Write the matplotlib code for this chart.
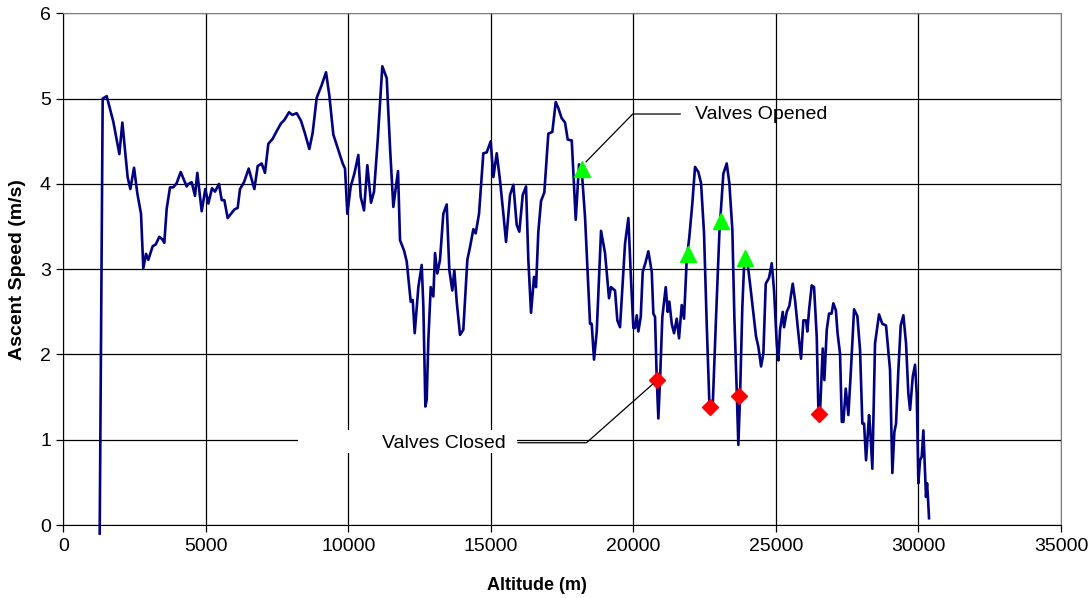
import matplotlib.pyplot as plt
from matplotlib.patches import Rectangle

plt.rcParams['font.family'] = ['Liberation Sans', 'DejaVu Sans']

# altitude (m) and ascent speed (m/s) along the flight
altitude = [1270, 1375, 1515, 1748, 1960, 2065, 2250, 2345, 2475, 2590, 2720, 2800, 2895, 2975,
            3130, 3235, 3362, 3467, 3537, 3621, 3737, 3853, 3972, 4113, 4323, 4380, 4498, 4614,
            4695, 4849, 4976, 5082, 5211, 5316, 5456, 5551, 5644, 5760, 5878, 5995, 6112, 6193,
            6333, 6498, 6697, 6814, 6954, 7070, 7187, 7340, 7481, 7632, 7749, 7913, 8030, 8182,
            8334, 8474, 8626, 8743, 8884, 9060, 9211, 9327, 9467, 9643, 9796, 9878, 9960, 10077,
            10205, 10345, 10428, 10545, 10661, 10790, 10896, 11025, 11187, 11341, 11457, 11573,
            11657, 11738, 11808, 11948, 12043, 12183, 12253, 12323, 12451, 12569, 12627, 12697,
            12744, 12802, 12885, 12977, 13036, 13117, 13211, 13327, 13446, 13538, 13643, 13713,
            13797, 13913, 14029, 14170, 14264, 14381, 14463, 14580, 14731, 14850, 14990, 15083,
            15201, 15317, 15434, 15528, 15668, 15785, 15902, 15994, 16113, 16229, 16310, 16405,
            16510, 16580, 16661, 16756, 16871, 17012, 17152, 17271, 17362, 17481, 17598, 17692,
            17833, 17973, 18089, 18183, 18300, 18475, 18533, 18615, 18710, 18861, 19001, 19141,
            19211, 19352, 19433, 19527, 19703, 19820, 19903, 19995, 20054, 20113, 20170, 20254,
            20324, 20415, 20521, 20640, 20697, 20756, 20815, 20872, 20931, 21012, 21131, 21201,
            21258, 21342, 21423, 21517, 21598, 21692, 21773, 21867, 21959, 22064, 22159, 22275,
            22370, 22475, 22569, 22662, 22781, 22897, 23013, 23152, 23271, 23363, 23469, 23539,
            23622, 23679, 23738, 23819, 23889, 23973, 24089, 24206, 24300, 24381, 24476, 24557,
            24640, 24756, 24851, 24932, 25026, 25083, 25142, 25236, 25283, 25377, 25469, 25587,
            25668, 25763, 25879, 25960, 26054, 26100, 26160, 26253, 26335, 26429, 26485, 26545,
            26640, 26697, 26781, 26861, 26950, 27012, 27100, 27160, 27247, 27309, 27365, 27448,
            27539, 27623, 27739, 27855, 27949, 28030, 28090, 28160, 28265, 28300, 28381, 28475,
            28615, 28730, 28861, 29001, 29083, 29153, 29212, 29294, 29376, 29469, 29563, 29644,
            29704, 29798, 29879, 29938, 29995, 30054, 30113, 30171, 30230, 30264, 30300, 30330,
            30370]
speed = [-0.10, 5.00, 5.03, 4.73, 4.35, 4.72, 4.08, 3.94, 4.19, 3.89, 3.65, 3.01, 3.18, 3.11,
         3.27, 3.29, 3.38, 3.35, 3.31, 3.71, 3.96, 3.96, 4.01, 4.14, 3.97, 4.00, 4.02, 3.86,
         4.13, 3.68, 3.94, 3.77, 3.95, 3.91, 4.00, 3.81, 3.81, 3.60, 3.65, 3.70, 3.72, 3.94,
         4.02, 4.18, 3.94, 4.21, 4.24, 4.13, 4.47, 4.53, 4.62, 4.71, 4.75, 4.84, 4.81, 4.83,
         4.74, 4.59, 4.41, 4.60, 5.01, 5.16, 5.31, 5.04, 4.58, 4.40, 4.24, 4.18, 3.65, 3.97,
         4.12, 4.34, 3.85, 3.69, 4.22, 3.78, 3.91, 4.51, 5.38, 5.24, 4.43, 3.73,
         3.95, 4.15, 3.34, 3.22, 3.09, 2.62, 2.64, 2.25, 2.79, 3.05, 2.56, 1.39,
         1.47, 2.17, 2.79, 2.68, 3.19, 2.95, 3.11, 3.65, 3.76, 2.99, 2.75, 2.99,
         2.62, 2.23, 2.29, 3.11, 3.26, 3.47, 3.42, 3.65, 4.36, 4.37, 4.50, 4.08,
         4.36, 4.04, 3.65, 3.32, 3.87, 3.99, 3.52, 3.44, 3.87, 3.97, 3.11, 2.49,
         2.91, 2.79, 3.44, 3.80, 3.90, 4.59, 4.61, 4.96, 4.89, 4.77, 4.72, 4.52,
         4.51, 3.58, 4.23, 4.16, 3.61, 2.36, 2.36, 1.94, 2.27, 3.45, 3.19, 2.66,
         2.79, 2.75, 2.40, 2.32, 3.30, 3.60, 2.95, 2.31, 2.31, 2.46, 2.27, 2.44,
         2.97, 3.07, 3.21, 2.97, 2.48, 2.44, 1.72, 1.25, 1.70, 2.44, 2.79, 2.50,
         2.62, 2.36, 2.25, 2.42, 2.19, 2.58, 2.42, 3.11, 3.38, 3.77, 4.20, 4.14,
         4.01, 3.42, 2.36, 1.43, 1.41, 2.44, 3.42, 4.12, 4.24, 4.01, 3.46, 2.44,
         1.58, 0.94, 1.50, 2.56, 3.11, 3.15, 2.83, 2.48, 2.21, 2.09, 1.86, 2.01,
         2.83, 2.90, 3.07, 2.75, 2.13, 1.93, 2.29, 2.50, 2.32, 2.50, 2.57, 2.83,
         2.64, 2.32, 1.95, 2.40, 2.40, 2.27, 2.52, 2.81, 2.79, 2.21, 1.39, 1.33,
         2.07, 1.70, 2.29, 2.48, 2.48, 2.60, 2.52, 2.25, 2.01, 1.21, 1.21, 1.60,
         1.29, 1.78, 2.53, 2.45, 2.05, 1.19, 1.19, 0.76, 1.29, 1.15, 0.66, 2.13,
         2.47, 2.36, 2.34, 1.82, 0.61, 1.09, 1.19, 1.82, 2.34, 2.46, 2.13, 1.54,
         1.35, 1.74, 1.88, 1.54, 0.49, 0.76, 0.80, 1.11, 0.62, 0.33, 0.49, 0.33,
         0.08]

# valve events
opened_alt = [18200, 21925, 23072, 23914]
opened_speed = [4.17, 3.18, 3.56, 3.13]
closed_alt = [20815, 22686, 23715, 26520]
closed_speed = [1.70, 1.38, 1.51, 1.30]

fig = plt.figure(figsize=(10.91, 5.98), dpi=100)
ax = fig.add_axes([0.0582, 0.122, 0.9143, 0.8556])

ax.set_xlim(0, 35000)
ax.set_ylim(0, 6)
ax.set_xticks(range(0, 35001, 5000))
ax.set_yticks(range(0, 7))
ax.grid(True, color='black', linewidth=0.9)
ax.set_axisbelow(True)
for side in ['top', 'right']:
    ax.spines[side].set_color('#808080')
ax.tick_params(direction='out', length=5, width=0.9, labelsize=14, pad=4)

ax.plot(altitude, speed, color='#000080', linewidth=1.9, zorder=3, clip_on=False)
ax.plot(opened_alt, opened_speed, linestyle='none', marker='^', markersize=12,
        color='#00FF00', zorder=4)
ax.plot(closed_alt, closed_speed, linestyle='none', marker='D', markersize=8.5,
        color='#FF0000', zorder=4)

# label callouts
ax.plot([21640, 19973, 18335], [4.82, 4.82, 4.26], color='black', linewidth=0.9, zorder=5)
ax.text(22156, 4.81, 'Valves Opened', fontsize=14, va='center', ha='left', zorder=6)

ax.add_patch(Rectangle((8229, 0.84), 7684, 0.27, facecolor='white', edgecolor='none', zorder=2.5))
ax.plot([15950, 18350, 20700], [0.965, 0.965, 1.66], color='black', linewidth=0.9, zorder=5)
ax.text(11166, 0.96, 'Valves Closed', fontsize=14, va='center', ha='left', zorder=6)

ax.set_xlabel('Altitude (m)', fontsize=13, fontweight='bold', va='center')
ax.set_ylabel('Ascent Speed (m/s)', fontsize=14, fontweight='bold', va='center')
ax.xaxis.set_label_coords(0.475, -0.119)
ax.yaxis.set_label_coords(-0.046, 0.5)

fig.savefig('out.png', dpi=100)
